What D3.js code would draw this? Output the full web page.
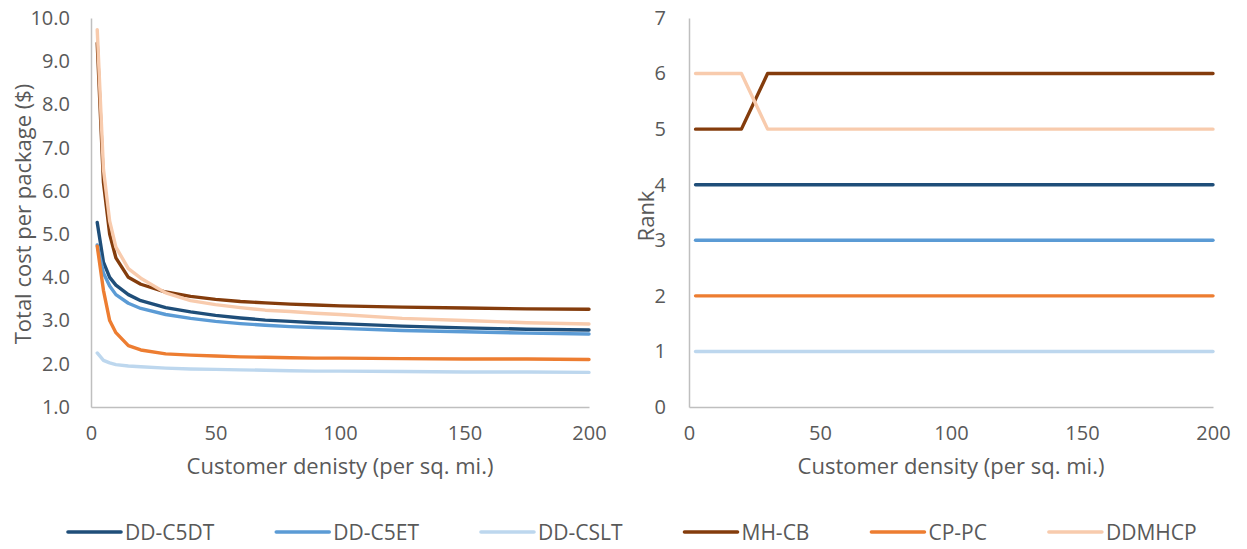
<!DOCTYPE html>
<html>
<head>
<meta charset="utf-8">
<script src="https://cdn.jsdelivr.net/npm/d3@7"></script>
<style>
  body { margin: 0; background: #fff; }
  svg text { font-family: "Open Sans", Lato, sans-serif; fill: #595959; }
</style>
</head>
<body>
<svg id="chart" width="1247" height="549"></svg>
<script>
// Customer density values (x axis, both charts)
const density = [2.5, 5, 7.5, 10, 15, 20, 30, 40, 50, 60, 70, 80, 90, 100, 125, 150, 175, 200];

// Total cost per package ($)
const costC5DT  = [5.27, 4.35, 4.00, 3.82, 3.60, 3.46, 3.30, 3.20, 3.12, 3.06, 3.01, 2.98, 2.95, 2.93, 2.87, 2.83, 2.80, 2.78];
const costC5ET  = [4.75, 4.10, 3.80, 3.60, 3.40, 3.28, 3.14, 3.05, 2.98, 2.93, 2.89, 2.86, 2.84, 2.82, 2.77, 2.74, 2.71, 2.69];
const costCSLT  = [2.25, 2.08, 2.02, 1.98, 1.95, 1.93, 1.90, 1.88, 1.87, 1.86, 1.85, 1.84, 1.83, 1.83, 1.82, 1.81, 1.81, 1.80];
const costMHCB  = [9.42, 6.20, 5.00, 4.45, 4.00, 3.84, 3.66, 3.56, 3.49, 3.44, 3.41, 3.38, 3.36, 3.34, 3.31, 3.29, 3.27, 3.26];
const costCPPC  = [4.72, 3.70, 3.00, 2.72, 2.42, 2.32, 2.23, 2.20, 2.18, 2.16, 2.15, 2.14, 2.13, 2.13, 2.12, 2.11, 2.11, 2.10];
const costDDMH  = [9.73, 6.50, 5.30, 4.70, 4.20, 3.98, 3.64, 3.46, 3.37, 3.30, 3.24, 3.21, 3.17, 3.14, 3.05, 3.00, 2.95, 2.92];

// Rank
const rankC5DT = [4, 4, 4, 4, 4, 4, 4, 4, 4, 4, 4, 4, 4, 4, 4, 4, 4, 4];
const rankC5ET = [3, 3, 3, 3, 3, 3, 3, 3, 3, 3, 3, 3, 3, 3, 3, 3, 3, 3];
const rankCSLT = [1, 1, 1, 1, 1, 1, 1, 1, 1, 1, 1, 1, 1, 1, 1, 1, 1, 1];
const rankMHCB = [5, 5, 5, 5, 5, 5, 6, 6, 6, 6, 6, 6, 6, 6, 6, 6, 6, 6];
const rankCPPC = [2, 2, 2, 2, 2, 2, 2, 2, 2, 2, 2, 2, 2, 2, 2, 2, 2, 2];
const rankDDMH = [6, 6, 6, 6, 6, 6, 5, 5, 5, 5, 5, 5, 5, 5, 5, 5, 5, 5];

const seriesNames = ["DD-C5DT", "DD-C5ET", "DD-CSLT", "MH-CB", "CP-PC", "DDMHCP"];
const seriesColors = ["#1F4E79", "#5B9BD5", "#BDD7EE", "#843C0C", "#ED7D31", "#F8CBAD"];
const costSeries = [costC5DT, costC5ET, costCSLT, costMHCB, costCPPC, costDDMH];
const rankSeries = [rankC5DT, rankC5ET, rankCSLT, rankMHCB, rankCPPC, rankDDMH];

const xTicks = [0, 50, 100, 150, 200];
const costTicks = [1, 2, 3, 4, 5, 6, 7, 8, 9, 10];
const rankTicks = [0, 1, 2, 3, 4, 5, 6, 7];

const svg = d3.select("#chart");

// draw one panel
function drawPanel(cfg) {
    const x = d3.scaleLinear().domain([0, 200]).range([cfg.left, cfg.right]);
    const y = d3.scaleLinear().domain(cfg.yDomain).range([407, 18]);
    const g = svg.append("g");

    // axes
    const xAxis = g.append("g")
        .attr("transform", `translate(0,${y(cfg.yDomain[0])})`)
        .call(d3.axisBottom(x).tickValues(xTicks).tickSize(0).tickPadding(19));
    const yAxis = g.append("g")
        .attr("transform", `translate(${x(0)},0)`)
        .call(d3.axisLeft(y).tickValues(cfg.yTicks).tickSize(0).tickPadding(cfg.yPad).tickFormat(cfg.yFormat));
    [xAxis, yAxis].forEach(a => {
        a.select(".domain").attr("stroke", "#BFBFBF").attr("stroke-width", 1.5);
        a.selectAll("text").attr("font-size", "20px").attr("font-family", null).style("fill", "#595959");
    });

    const line = d3.line()
        .x((d, i) => x(density[i]))
        .y(d => y(d));

    g.selectAll("path.series")
        .data(cfg.data)
        .enter().append("path")
        .attr("class", "series")
        .attr("d", line)
        .attr("fill", "none")
        .attr("stroke", (d, i) => seriesColors[i])
        .attr("stroke-width", 3.4)
        .attr("stroke-linejoin", "round")
        .attr("stroke-linecap", "round");

    // axis titles
    g.append("text")
        .attr("x", (cfg.left + cfg.right) / 2)
        .attr("y", 474)
        .attr("text-anchor", "middle")
        .attr("font-size", "22px")
        .text(cfg.xTitle);
    g.append("text")
        .attr("transform", `translate(${cfg.yTitleX},${cfg.yTitleY}) rotate(-90)`)
        .attr("text-anchor", "middle")
        .attr("font-size", "22px")
        .text(cfg.yTitle);
}

// rank panel first so the cost panel's y title stays on top
drawPanel({
    left: 689, right: 1213, yDomain: [0, 7], yTicks: rankTicks, yPad: 23,
    yFormat: d3.format("d"), data: rankSeries,
    xTitle: "Customer density (per sq. mi.)", yTitle: "Rank", yTitleX: 654, yTitleY: 216
});
drawPanel({
    left: 91, right: 589, yDomain: [1, 10], yTicks: costTicks, yPad: 21,
    yFormat: d3.format(".1f"), data: costSeries,
    xTitle: "Customer denisty (per sq. mi.)", yTitle: "Total cost per package ($)", yTitleX: 31, yTitleY: 214
});

// legend along the bottom
const legend = svg.append("g");
const items = legend.selectAll("g")
    .data(seriesNames)
    .enter().append("g");
items.append("line")
    .attr("x1", 0).attr("x2", 53)
    .attr("y1", 0).attr("y2", 0)
    .attr("stroke", (d, i) => seriesColors[i])
    .attr("stroke-width", 3.6)
    .attr("stroke-linecap", "round");
items.append("text")
    .attr("x", 57)
    .attr("y", 7.5)
    .attr("font-size", "21px")
    .text(d => d);

let offset = 68;
items.each(function() {
    const w = 57 + d3.select(this).select("text").node().getComputedTextLength();
    d3.select(this).attr("transform", `translate(${offset},532)`);
    offset += w + 62;
});
</script>
</body>
</html>
